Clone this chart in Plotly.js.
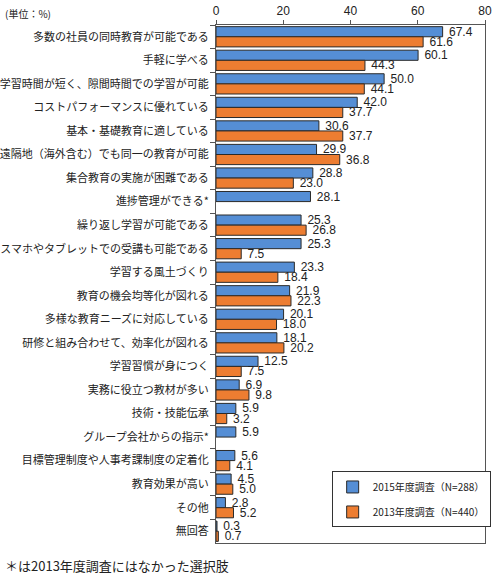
<!DOCTYPE html>
<html>
<head>
<meta charset="utf-8">
<script src="https://cdn.plot.ly/plotly-3.0.1.min.js"></script>
<style>
  body { margin: 0; background: #fff; }
  #chart { width: 500px; height: 582px; }
</style>
</head>
<body>
<div id="chart"></div>
<script>
var categories = [
  '多数の社員の同時教育が可能である',
  '手軽に学べる',
  '学習時間が短く、隙間時間での学習が可能',
  'コストパフォーマンスに優れている',
  '基本・基礎教育に適している',
  '遠隔地（海外含む）でも同一の教育が可能',
  '集合教育の実施が困難である',
  '進捗管理ができる*',
  '繰り返し学習が可能である',
  'スマホやタブレットでの受講も可能である',
  '学習する風土づくり',
  '教育の機会均等化が図れる',
  '多様な教育ニーズに対応している',
  '研修と組み合わせて、効率化が図れる',
  '学習習慣が身につく',
  '実務に役立つ教材が多い',
  '技術・技能伝承',
  'グループ会社からの指示*',
  '目標管理制度や人事考課制度の定着化',
  '教育効果が高い',
  'その他',
  '無回答'
];
var values2015 = [67.4, 60.1, 50.0, 42.0, 30.6, 29.9, 28.8, 28.1, 25.3, 25.3, 23.3,
                  21.9, 20.1, 18.1, 12.5, 6.9, 5.9, 5.9, 5.6, 4.5, 2.8, 0.3];
var values2013 = [61.6, 44.3, 44.1, 37.7, 37.7, 36.8, 23.0, null, 26.8, 7.5, 18.4,
                  22.3, 18.0, 20.2, 7.5, 9.8, 3.2, null, 4.1, 5.0, 5.2, 0.7];
var seriesNames = ['2015年度調査（N=288）', '2013年度調査（N=440）'];

var jp = '"Noto Sans CJK JP", "Noto Sans", sans-serif';
var latin = '"Liberation Sans", Arial, sans-serif';

// leading nbsp gives the Excel-like gap between bar end and label
function labels(vals) {
  return vals.map(function (v) { return v === null ? '' : '\u00a0' + v.toFixed(1); });
}

var data = [
  {
    type: 'bar', orientation: 'h', name: seriesNames[0], legendgroup: 'a',
    y: categories, x: values2015, text: labels(values2015),
    textposition: 'outside', cliponaxis: false, constraintext: 'none',
    textfont: {size: 12, color: '#222', family: latin},
    marker: {color: '#558ed5', line: {color: '#2a2a2a', width: 1}},
    hoverinfo: 'x+y'
  },
  {
    type: 'bar', orientation: 'h', name: seriesNames[1], legendgroup: 'b',
    y: categories, x: values2013, text: labels(values2013),
    textposition: 'outside', cliponaxis: false, constraintext: 'none',
    textfont: {size: 12, color: '#222', family: latin},
    marker: {color: '#ed7d31', line: {color: '#2a2a2a', width: 1}},
    hoverinfo: 'x+y'
  }
];

var layout = {
  width: 500, height: 582,
  margin: {l: 216, r: 15, t: 25, b: 39, autoexpand: false},
  font: {family: jp, size: 11, color: '#222'},
  barmode: 'group',
  bargap: 0.14,
  bargroupgap: 0,
  paper_bgcolor: '#fff',
  plot_bgcolor: '#fff',
  xaxis: {
    side: 'top', range: [0, 80], dtick: 20,
    showgrid: false, zeroline: false,
    showline: true, linecolor: '#555', mirror: true,
    ticks: 'outside', ticklen: 4, tickcolor: '#555',
    tickfont: {size: 12, color: '#222', family: latin}
  },
  yaxis: {
    autorange: 'reversed', type: 'category',
    showgrid: false, zeroline: false,
    showline: true, linecolor: '#555', mirror: true,
    ticks: 'outside', tickson: 'boundaries', ticklen: 5, tickcolor: '#555',
    ticklabelstandoff: 4,
    tickfont: {size: 11, color: '#222'}
  },
  legend: {
    x: 0.43, y: 0.03, xanchor: 'left', yanchor: 'bottom',
    bgcolor: '#fff', bordercolor: '#333', borderwidth: 1,
    tracegroupgap: 6, itemwidth: 30,
    font: {size: 10, color: '#222'}
  },
  annotations: [
    {text: '(単位：%)', xref: 'paper', yref: 'paper', x: -213 / 269, y: 1,
     yshift: 12, xanchor: 'left', yanchor: 'middle', align: 'left', showarrow: false,
     font: {size: 10, color: '#222'}},
    {text: '＊は2013年度調査にはなかった選択肢', xref: 'paper', yref: 'paper',
     x: -213 / 269, y: 0, yshift: -22, xanchor: 'left', yanchor: 'middle',
     align: 'left', showarrow: false, font: {size: 13, color: '#222'}}
  ]
};

Plotly.newPlot('chart', data, layout, {displayModeBar: false, showLink: false});
</script>
</body>
</html>
